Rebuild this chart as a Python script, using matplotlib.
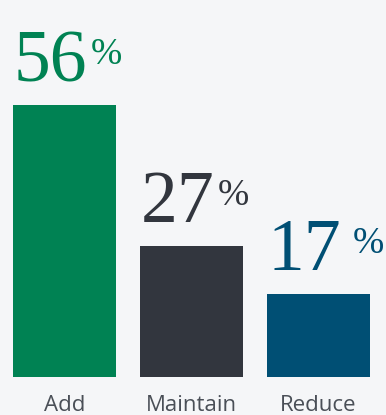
import matplotlib
matplotlib.use("Agg")
import matplotlib.pyplot as plt

categories = ["Add", "Maintain", "Reduce"]
values = [56, 27, 17]
colors = ["#008253", "#32363e", "#004f74"]

BG = "#f5f6f8"

fig = plt.figure(figsize=(3.86, 4.15), dpi=100, facecolor=BG)
ax = fig.add_axes([0, 0, 1, 1], facecolor=BG)

x = list(range(len(categories)))
width = 103 / 127
ax.bar(x, values, width=width, color=colors)

# pixel-to-data scale: 0 sits 38px above the bottom edge
ax.set_ylim(-38 / 4.857, 377 / 4.857)
ax.set_xlim(-64.5 / 127, (386 - 64.5) / 127)
ax.axis("off")

# horizontal gap (px) between the number and its percent sign
pct_offsets = [3, 3, 11]

for xi, v, c, dx in zip(x, values, colors, pct_offsets):
    num = ax.annotate(str(v), xy=(xi - width / 2, v), xytext=(1, 24),
                      textcoords="offset pixels", ha="left", va="baseline",
                      fontsize=53, color=c, family="Liberation Serif")
    ax.annotate("%", xy=(1, 1), xycoords=num, xytext=(dx, -8),
                textcoords="offset pixels", ha="left", va="top",
                fontsize=27, color=c, family="Liberation Serif")

for xi, name in zip(x, categories):
    ax.annotate(name, xy=(xi, 0), xytext=(0, -34), textcoords="offset pixels",
                ha="center", va="baseline", fontsize=16, color="#4a4f57",
                family="Open Sans")

fig.savefig("out.png", dpi=100, facecolor=BG)
